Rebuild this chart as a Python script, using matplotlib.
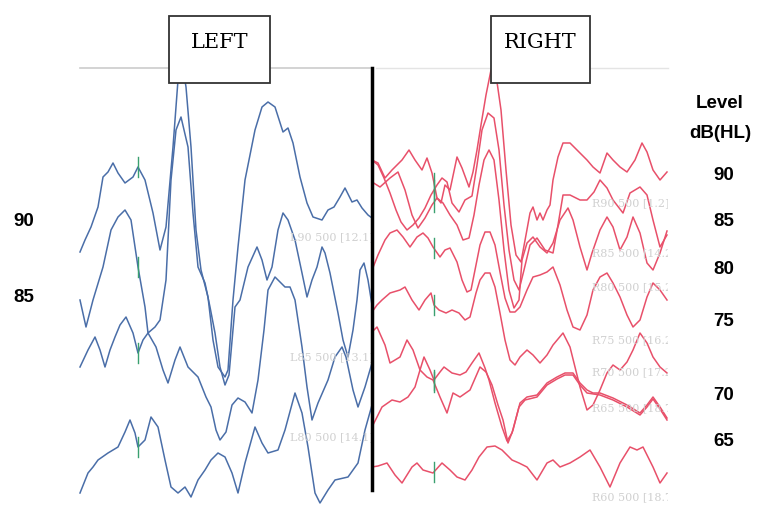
import numpy as np
import matplotlib
matplotlib.use("Agg")
import matplotlib.pyplot as plt
from matplotlib.patches import Rectangle

# ABR traces (x, y in figure units, y grows downward)
left_90 = [(80,252),(85,240),(91,227),(98,207),(103,177),(108,172),(113,163),(118,173),(125,183),
           (133,177),(138,167),(145,180),(153,213),(160,250),(166,227),(173,147),(178,80),(182,62),
           (186,87),(191,147),(196,230),(201,270),(208,297),(213,340),(218,367),(225,377),(228,370),
           (233,300),(238,247),(245,180),(255,130),(262,107),(268,102),(275,107),(283,132),(288,128),
           (293,143),(300,177),(307,203),(313,217),(322,220),(328,210),(334,207),(340,197),(345,188),
           (352,202),(357,200),(362,208),(368,215),(372,218)]
left_85 = [(80,300),(86,327),(93,300),(103,267),(111,230),(118,217),(125,210),(131,220),(138,267),
           (145,307),(148,333),(155,327),(160,320),(166,280),(171,180),(176,130),(181,117),(188,147),
           (193,213),(198,267),(205,283),(210,307),(215,333),(220,367),(225,385),(229,375),(235,307),
           (240,300),(248,267),(257,247),(262,260),(267,280),(272,267),(278,230),(283,213),(288,220),
           (295,240),(302,273),(307,297),(312,280),(317,267),(322,247),(325,253),(330,273),(338,313),
           (343,340),(348,357),(353,330),(357,300),(360,270),(364,263),(368,280),(372,305)]
left_80 = [(80,367),(88,350),(95,337),(100,350),(105,367),(110,350),(115,337),(120,325),(126,317),
           (133,333),(138,353),(143,340),(148,333),(156,347),(163,370),(168,383),(175,360),(180,347),
           (188,367),(198,377),(206,397),(211,407),(216,430),(220,440),(226,432),(232,405),(238,398),
           (245,402),(252,413),(258,380),(264,330),(268,290),(275,277),(280,282),(285,287),(290,287),
           (295,300),(302,347),(307,387),(312,420),(318,403),(328,380),(335,357),(342,347),(346,357),
           (353,390),(358,407),(365,387),(372,363)]
left_75 = [(80,493),(88,473),(93,467),(98,460),(108,453),(118,447),(125,432),(130,420),(135,433),
           (138,447),(145,440),(151,417),(158,427),(165,460),(171,487),(178,493),(185,487),(191,497),
           (198,480),(205,470),(211,460),(218,453),(225,457),(232,473),(238,493),(245,463),(255,427),
           (262,443),(268,453),(278,450),(285,430),(295,393),(302,413),(308,447),(315,493),(320,503),
           (328,490),(335,480),(348,477),(358,463),(365,430),(372,405)]

right_90 = [(372,160),(378,163),(385,178),(392,170),(402,160),(409,150),(415,160),(422,170),(427,158),
            (432,173),(437,198),(441,203),(445,185),(450,190),(457,157),(462,168),(469,187),(473,172),
            (477,150),(481,125),(486,95),(491,70),(496,75),(501,110),(506,170),(511,225),(516,255),
            (521,262),(526,235),(530,213),(533,207),(537,220),(540,213),(543,220),(547,210),(550,205),
            (553,180),(558,157),(563,143),(570,143),(577,150),(587,160),(593,167),(600,173),(607,153),
            (613,160),(620,167),(627,172),(635,160),(642,143),(647,152),(653,170),(660,180),(667,172)]
right_85 = [(372,160),(378,165),(384,178),(390,193),(396,210),(401,222),(407,230),(413,225),(419,218),
            (425,208),(431,195),(437,185),(442,178),(447,182),(452,203),(459,212),(465,200),(472,196),
            (477,165),(482,130),(488,113),(494,118),(499,150),(504,205),(509,250),(514,280),(519,290),
            (524,270),(530,245),(537,238),(545,250),(553,253),(558,225),(563,195),(570,195),(580,200),
            (587,200),(594,192),(600,180),(607,188),(613,200),(623,213),(630,193),(640,187),(647,195),
            (653,220),(660,247),(667,235)]
right_80 = [(372,182),(380,187),(390,178),(398,172),(405,190),(412,215),(418,228),(425,218),(432,205),
            (437,198),(443,203),(450,215),(457,225),(463,240),(469,238),(474,215),(479,185),(484,160),
            (489,150),(494,160),(499,200),(504,250),(509,290),(514,308),(519,300),(522,260),(527,243),
            (533,237),(540,247),(547,253),(553,243),(560,220),(568,208),(573,220),(580,247),(587,270),
            (592,253),(600,230),(607,217),(613,227),(620,250),(627,237),(633,217),(640,233),(647,263),
            (653,270),(660,253),(667,231)]
right_75 = [(372,270),(378,255),(385,240),(390,233),(397,230),(403,237),(410,247),(417,237),(423,233),
            (428,238),(433,247),(440,257),(445,250),(450,248),(457,262),(462,280),(467,292),(471,290),
            (476,265),(480,245),(485,232),(490,232),(495,245),(500,272),(505,298),(510,312),(515,312),
            (520,307),(527,290),(533,277),(540,275),(547,272),(553,267),(560,285),(567,310),(573,327),
            (580,330),(587,315),(593,290),(600,277),(607,273),(613,283),(620,297),(627,315),(633,327),
            (640,320),(647,297),(653,283),(660,290),(667,300)]
right_70 = [(372,312),(377,305),(382,300),(390,293),(400,290),(405,287),(412,300),(419,310),(425,300),
            (431,293),(434,305),(439,310),(446,313),(452,310),(459,313),(465,320),(470,317),(476,293),
            (480,280),(485,273),(490,273),(495,287),(500,313),(505,340),(510,360),(515,365),(520,357),
            (527,350),(533,355),(540,363),(547,355),(553,345),(563,333),(570,347),(575,367),(580,387),
            (587,410),(593,405),(600,390),(607,373),(613,365),(620,370),(627,362),(633,350),(640,333),
            (647,343),(653,357),(660,367),(667,373)]
right_65 = [(372,332),(377,327),(385,345),(390,363),(400,357),(407,340),(413,350),(420,370),(427,377),
            (433,380),(440,397),(447,413),(453,393),(460,397),(470,390),(480,367),(486,372),(492,385),
            (498,405),(503,420),(508,443),(513,430),(520,403),(527,397),(537,395),(547,383),(557,377),
            (565,373),(573,373),(580,383),(587,390),(593,393),(600,393),(613,398),(627,405),(640,413),
            (647,405),(653,397),(660,407),(667,418)]
right_60 = [(372,427),(382,407),(392,400),(400,402),(408,397),(415,387),(420,370),(424,357),(430,370),
            (434,380),(440,372),(444,367),(452,373),(460,375),(466,372),(472,363),(479,353),(485,368),
            (489,380),(495,403),(502,427),(507,441),(512,433),(519,407),(525,400),(537,397),(547,385),
            (557,379),(565,375),(573,375),(580,385),(587,393),(600,395),(613,400),(627,407),(640,415),
            (647,407),(653,399),(660,409),(667,420)]
right_55 = [(372,467),(378,466),(387,463),(395,475),(402,483),(407,475),(412,467),(417,463),(423,470),
            (433,473),(442,463),(450,470),(457,477),(465,480),(472,470),(479,457),(487,447),(495,446),
            (502,450),(512,460),(519,463),(527,467),(537,480),(547,463),(553,460),(560,467),(570,463),
            (580,457),(590,450),(600,467),(610,487),(620,463),(630,447),(637,450),(643,447),(653,467),
            (660,483),(667,473)]

left_traces = [left_90, left_85, left_80, left_75]
right_traces = [right_90, right_85, right_80, right_75, right_70, right_65, right_60, right_55]

left_levels = ["90", "85"]
right_levels = ["90", "85", "80", "75", "70", "65"]

left_tags = ["L90 500 [12.1]", "L85 500 [13.1]", "L80 500 [14.1]"]
right_tags = ["R90 500 [1.2]", "R85 500 [14.2]", "R80 500 [15.2]", "R75 500 [16.2]",
              "R70 500 [17.2]", "R65 500 [18.7]", "R60 500 [18.7]"]

wave_v_left = 138
wave_v_right = 434

fig = plt.figure(figsize=(7.63, 5.13), dpi=100)
ax = fig.add_axes([0, 0, 1, 1])
ax.set_xlim(0, 763)
ax.set_ylim(513, 0)
ax.axis("off")

blue = "#4a6ea8"
red = "#e8506a"
green = "#3aa070"

# panels, clipped so tags get cut at the edge like in the scan
left_clip = Rectangle((80, 60), 292, 450, transform=ax.transData)
right_clip = Rectangle((372, 60), 296, 450, transform=ax.transData)

for tr in left_traces:
    xs, ys = zip(*tr)
    ax.plot(xs, ys, color=blue, lw=1.1, zorder=2)
    yv = np.interp(wave_v_left, xs, ys)
    ax.plot([wave_v_left] * 2, [yv - 10, yv + 10], color=green, lw=1.0, zorder=3)

for tr in right_traces:
    xs, ys = zip(*tr)
    ax.plot(xs, ys, color=red, lw=1.1, zorder=2)
    yv = np.interp(wave_v_right, xs, ys)
    ax.plot([wave_v_right] * 2, [yv - 10, yv + 10], color=green, lw=1.0, zorder=3)

tag_y_left = [237, 357, 437]
for t, y in zip(left_tags, tag_y_left):
    txt = ax.text(290, y, t, fontsize=8, color="#d0d0d0", family="DejaVu Serif", va="center", clip_on=True)
    txt.set_clip_path(left_clip)

tag_y_right = [203, 253, 287, 340, 372, 408, 497]
for t, y in zip(right_tags, tag_y_right):
    txt = ax.text(592, y, t, fontsize=8, color="#d0d0d0", family="DejaVu Serif", va="center", clip_on=True)
    txt.set_clip_path(right_clip)

# top gray rule and middle divider
ax.plot([80, 370], [68, 68], color="#cccccc", lw=1.2, zorder=1)
ax.plot([376, 668], [68, 68], color="#e4e4e4", lw=1.0, zorder=1)
ax.plot([372, 372], [68, 490], color="black", lw=2.5, zorder=4)

# LEFT / RIGHT boxes drawn over the peaks
for x0, w, label in [(169, 101, "LEFT"), (491, 99, "RIGHT")]:
    ax.add_patch(Rectangle((x0, 16), w, 67, facecolor="white", edgecolor="#333333", lw=1.3, zorder=5))
    ax.text(x0 + w / 2, 42, label, fontsize=15, family="DejaVu Serif", ha="center", va="center", zorder=6)

lab_font = dict(fontsize=13.5, fontweight="bold", family=["Liberation Sans Narrow", "Liberation Sans"],
                ha="center", va="center")
ax.text(720, 103, "Level", **lab_font)
ax.text(720, 133, "dB(HL)", **lab_font)
for lv, y in zip(right_levels, [176, 222, 270, 322, 395, 442]):
    ax.text(724, y, lv, **lab_font)
for lv, y in zip(left_levels, [222, 297]):
    ax.text(24, y, lv, **lab_font)

fig.savefig("out.png", dpi=100)
